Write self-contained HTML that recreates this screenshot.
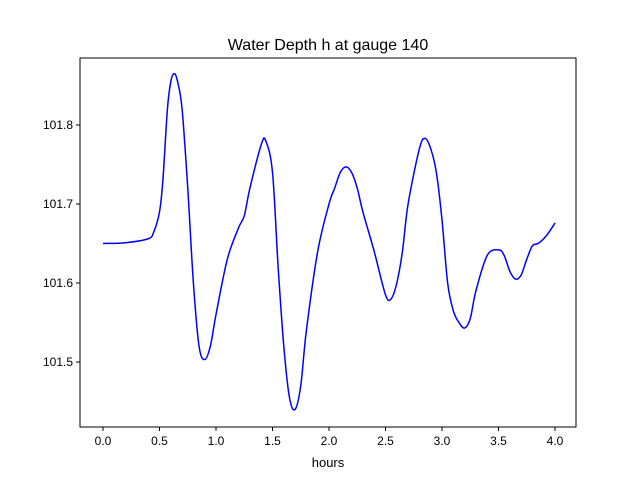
<!DOCTYPE html>
<html><head><meta charset="utf-8"><style>
body{margin:0;background:#fff;font-family:"Liberation Sans",sans-serif;}
text{font-family:"Liberation Sans",sans-serif;}
</style></head><body>
<svg id="chart" width="640" height="480" xmlns="http://www.w3.org/2000/svg">
<rect width="640" height="480" fill="#fff"/>
<text x="328" y="50" font-size="16" text-anchor="middle">Water Depth h at gauge 140</text>
<g id="plot"></g>
<text x="328" y="467" font-size="13" text-anchor="middle">hours</text>
</svg>
<script>
const times=[0,0.2,0.4,0.45,0.5,0.53,0.57,0.6,0.63,0.66,0.7,0.75,0.8,0.85,0.9,0.95,1.0,1.1,1.2,1.25,1.3,1.4,1.44,1.5,1.55,1.6,1.65,1.7,1.75,1.8,1.9,2.0,2.05,2.1,2.15,2.2,2.25,2.3,2.4,2.5,2.55,2.6,2.65,2.7,2.8,2.85,2.9,2.95,3.0,3.05,3.1,3.15,3.2,3.25,3.3,3.4,3.5,3.55,3.6,3.65,3.7,3.75,3.8,3.85,3.9,3.95,4.0];
const depths=[101.65,101.651,101.656,101.665,101.69,101.73,101.82,101.855,101.865,101.855,101.82,101.72,101.6,101.52,101.503,101.52,101.56,101.63,101.67,101.685,101.72,101.775,101.78,101.74,101.62,101.52,101.455,101.44,101.47,101.54,101.64,101.7,101.72,101.74,101.747,101.74,101.72,101.69,101.64,101.585,101.58,101.6,101.64,101.7,101.77,101.783,101.77,101.74,101.68,101.6,101.565,101.55,101.543,101.555,101.59,101.635,101.642,101.635,101.615,101.605,101.61,101.63,101.647,101.65,101.656,101.665,101.676];
const xTicks=[0,0.5,1,1.5,2,2.5,3,3.5,4];
const xTickLabels=["0.0","0.5","1.0","1.5","2.0","2.5","3.0","3.5","4.0"];
const yTicks=[101.5,101.6,101.7,101.8];
const yTickLabels=["101.5","101.6","101.7","101.8"];
const L=80,R=576,T=58,B=427;
const xScale=v=>103+v*113;
const yScale=v=>362-(v-101.5)*790;
const NS="http://www.w3.org/2000/svg";
const g=document.getElementById('plot');
function mk(tag,attrs){const e=document.createElementNS(NS,tag);for(const k in attrs)e.setAttribute(k,attrs[k]);g.appendChild(e);return e;}
const pts=times.map((t,i)=>[xScale(t),yScale(depths[i])]);
let d="M"+pts[0][0]+","+pts[0][1];
for(let i=0;i<pts.length-1;i++){
 const p0=pts[i-1]||pts[i],p1=pts[i],p2=pts[i+1],p3=pts[i+2]||p2;
 const c1=[p1[0]+(p2[0]-p0[0])/6,p1[1]+(p2[1]-p0[1])/6];
 const c2=[p2[0]-(p3[0]-p1[0])/6,p2[1]-(p3[1]-p1[1])/6];
 d+=` C${c1[0]},${c1[1]} ${c2[0]},${c2[1]} ${p2[0]},${p2[1]}`;
}
const line=mk('path',{d:d,fill:'none',stroke:'#0000ff','stroke-width':1.5});


const frame=mk('rect',{x:L,y:T,width:R-L,height:B-T,fill:'none',stroke:'#000','stroke-width':1});


xTicks.forEach((v,i)=>{
 const x=xScale(v);
 const tk=mk('line',{x1:x,x2:x,y1:B,y2:B+4,stroke:'#000'});
 
 
 const tx=mk('text',{x:x,y:B+18,'font-size':12,'text-anchor':'middle'});
 tx.textContent=xTickLabels[i];
 
 
});
yTicks.forEach((v,i)=>{
 const y=yScale(v);
 const tk=mk('line',{x1:L-4,x2:L,y1:y,y2:y,stroke:'#000'});
 
 
 const tx=mk('text',{x:L-7,y:y+4,'font-size':12,'text-anchor':'end'});
 tx.textContent=yTickLabels[i];
 
 
});
</script>
</body></html>
